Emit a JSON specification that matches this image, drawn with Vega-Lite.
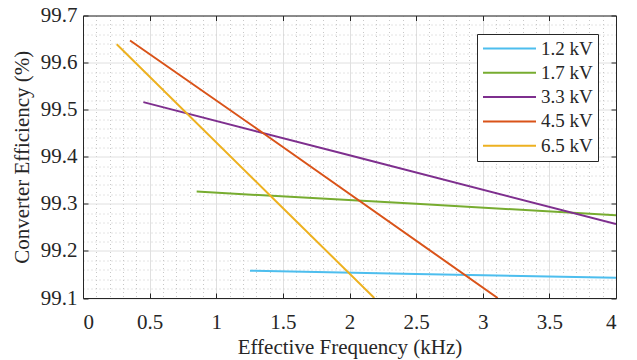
{
  "$schema": "https://vega.github.io/schema/vega-lite/v6.json",
  "width": 533,
  "height": 282.5,
  "autosize": "none",
  "padding": {"left": 83, "top": 15.5, "right": 21, "bottom": 62},
  "background": "white",
  "config": {
    "view": {"stroke": null},
    "font": "Liberation Serif",
    "axis": {"labelFont": "serif", "titleFont": "Liberation Serif", "labelColor": "#262626", "titleColor": "#262626", "titleFontWeight": "normal", "domainColor": "#262626", "tickColor": "#262626"}
  },
  "data": {"values": [
    {"series": "1.2 kV", "f": 1.253, "eff": 99.158},
    {"series": "1.2 kV", "f": 2.5, "eff": 99.151},
    {"series": "1.2 kV", "f": 4.0, "eff": 99.143},
    {"series": "1.7 kV", "f": 0.853, "eff": 99.326},
    {"series": "1.7 kV", "f": 2.5, "eff": 99.300},
    {"series": "1.7 kV", "f": 4.0, "eff": 99.276},
    {"series": "3.3 kV", "f": 0.453, "eff": 99.516},
    {"series": "3.3 kV", "f": 2.0, "eff": 99.403},
    {"series": "3.3 kV", "f": 4.0, "eff": 99.257},
    {"series": "4.5 kV", "f": 0.353, "eff": 99.647},
    {"series": "4.5 kV", "f": 1.353, "eff": 99.450},
    {"series": "4.5 kV", "f": 3.112, "eff": 99.100},
    {"series": "6.5 kV", "f": 0.253, "eff": 99.639},
    {"series": "6.5 kV", "f": 1.45, "eff": 99.305},
    {"series": "6.5 kV", "f": 2.186, "eff": 99.100}
  ]},
  "resolve": {"axis": {"x": "independent", "y": "independent"}},
  "layer": [
    {
      "mark": {"type": "line", "strokeWidth": 2, "clip": true},
      "encoding": {
        "x": {"field": "f", "type": "quantitative", "scale": {"domain": [0, 4], "nice": false},
          "axis": {"orient": "bottom", "values": [0,0.5,1,1.5,2,2.5,3,3.5,4], "grid": true, "gridColor": "#e0e0e0", "gridWidth": 1,
            "labelFont": "serif", "titleFont": "Liberation Serif",
            "labelFontSize": 21, "labelPadding": 18, "tickSize": -5, "domainWidth": 1, "labelExpr": "datum.value",
            "title": "Effective Frequency (kHz)", "titleFontSize": 21, "titlePadding": 4,
            "encode": {"labels": {"enter": {"font": {"value": "serif"}}, "update": {"font": {"value": "serif"}}}}}},
        "y": {"field": "eff", "type": "quantitative", "scale": {"domain": [99.1, 99.7], "nice": false, "zero": false},
          "axis": {"orient": "left", "values": [99.1,99.2,99.3,99.4,99.5,99.6,99.7], "grid": true, "gridColor": "#e0e0e0", "gridWidth": 1,
            "labelFont": "serif", "titleFont": "Liberation Serif",
            "labelFontSize": 21, "labelPadding": 11, "tickSize": -5, "domainWidth": 1, "labelExpr": "format(datum.value, '.1f')",
            "title": "Converter Efficiency (%)", "titleFontSize": 21, "titlePadding": 8,
            "encode": {"labels": {"enter": {"font": {"value": "serif"}}, "update": {"font": {"value": "serif"}}}}}},
        "color": {"field": "series", "type": "nominal",
          "scale": {"domain": ["1.2 kV", "1.7 kV", "3.3 kV", "4.5 kV", "6.5 kV"], "range": ["#4DBEEE", "#77AC30", "#7E2F8E", "#D95319", "#EDB120"]},
          "legend": {"title": null, "orient": "none", "legendX": 394, "legendY": 18.5, "symbolType": "stroke", "symbolSize": 2809, "symbolStrokeWidth": 2,
            "labelFontSize": 19, "labelFont": "Liberation Serif", "labelColor": "#262626", "labelOffset": 4, "clipHeight": 19, "rowPadding": 4.3, "padding": 5,
            "strokeColor": "#262626", "fillColor": "white"}}
      }
    },
    {
      "mark": {"type": "line", "strokeOpacity": 0},
      "encoding": {
        "x": {"field": "f", "type": "quantitative", "scale": {"domain": [0, 4], "nice": false},
          "axis": {"orient": "bottom", "values": [0.1,0.2,0.3,0.4,0.6,0.7,0.8,0.9,1.1,1.2,1.3,1.4,1.6,1.7,1.8,1.9,2.1,2.2,2.3,2.4,2.6,2.7,2.8,2.9,3.1,3.2,3.3,3.4,3.6,3.7,3.8,3.9],
            "grid": true, "gridColor": "#c8c8c8", "gridDash": [1, 3], "gridWidth": 1, "labels": false, "ticks": false, "domain": false, "title": null}},
        "y": {"field": "eff", "type": "quantitative", "scale": {"domain": [99.1, 99.7], "nice": false, "zero": false},
          "axis": {"orient": "left", "values": [99.12,99.14,99.16,99.18,99.22,99.24,99.26,99.28,99.32,99.34,99.36,99.38,99.42,99.44,99.46,99.48,99.52,99.54,99.56,99.58,99.62,99.64,99.66,99.68],
            "grid": true, "gridColor": "#c8c8c8", "gridDash": [1, 3], "gridWidth": 1, "labels": false, "ticks": false, "domain": false, "title": null}},
        "detail": {"field": "series"}
      }
    },
    {
      "mark": {"type": "line", "strokeOpacity": 0},
      "encoding": {
        "x": {"field": "f", "type": "quantitative", "scale": {"domain": [0, 4], "nice": false},
          "axis": {"orient": "top", "values": [0,0.5,1,1.5,2,2.5,3,3.5,4], "grid": false, "labels": false, "ticks": true, "tickSize": -5, "domain": true, "domainWidth": 1, "title": null}},
        "y": {"field": "eff", "type": "quantitative", "scale": {"domain": [99.1, 99.7], "nice": false, "zero": false},
          "axis": {"orient": "right", "values": [99.1,99.2,99.3,99.4,99.5,99.6,99.7], "grid": false, "labels": false, "ticks": true, "tickSize": -5, "domain": true, "domainWidth": 1, "title": null}},
        "detail": {"field": "series"}
      }
    }
  ]
}
